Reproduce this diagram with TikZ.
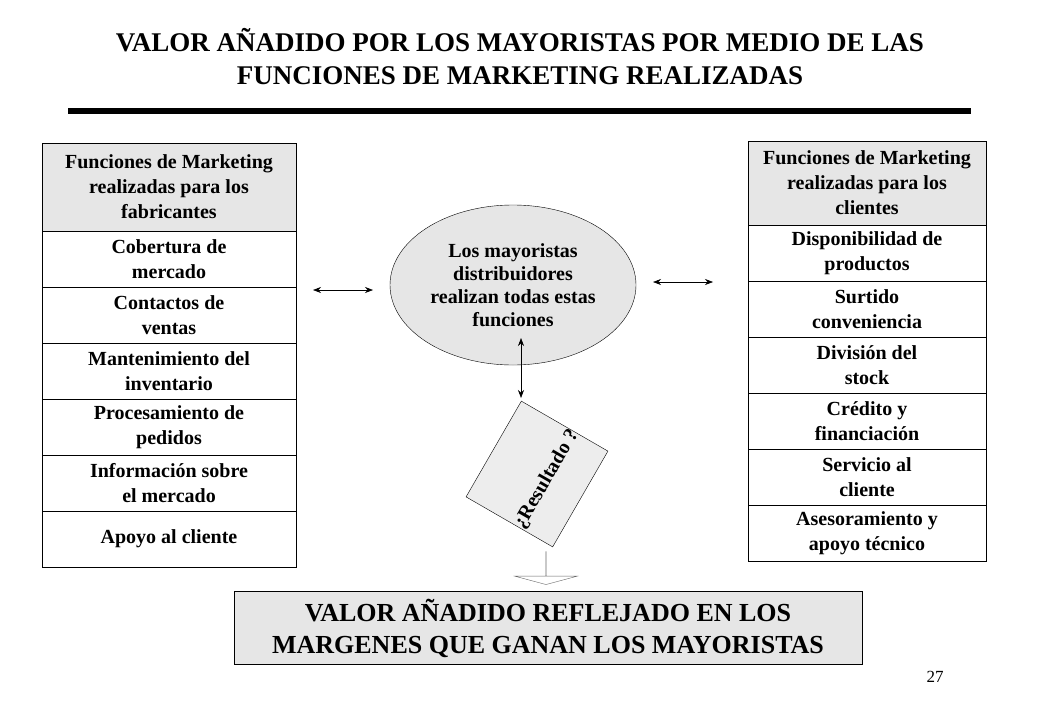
\documentclass[tikz,border=0pt]{standalone}
\usepackage{fontspec}
\setmainfont{Liberation Serif}
\usetikzlibrary{shapes.geometric,shapes.arrows,arrows.meta}
\definecolor{boxgray}{RGB}{230,230,230}
\tikzset{
  cell/.style={draw, minimum height=56pt, align=center, font=\bfseries\fontsize{20}{25}\selectfont, inner sep=1pt},
  head/.style={cell, fill=boxgray},
  link/.style={{Stealth[length=8pt]}-{Stealth[length=8pt]}, semithick}
}
\begin{document}
\begin{tikzpicture}[x=1pt,y=-1pt]
  \useasboundingbox (0,0) rectangle (1040,720);
  \node[align=center, font=\bfseries\fontsize{27}{33}\selectfont] (title) at (520,57)
    {VALOR AÑADIDO POR LOS MAYORISTAS POR MEDIO DE LAS\\FUNCIONES DE MARKETING REALIZADAS};
  \draw[line width=6pt] (68,111) -- (971,111);

  % fabricantes
  \node[head, minimum width=254pt, minimum height=88pt] (fab) at (169,187)
    {Funciones de Marketing\\realizadas para los\\fabricantes};
  \foreach \t [count=\i] in {{Cobertura de\\mercado},{Contactos de\\ventas},
      {Mantenimiento del\\inventario},{Procesamiento de\\pedidos},
      {Información sobre\\el mercado},{Apoyo al cliente}}
    \node[cell, minimum width=254pt] (f\i) at (169,203+56*\i) {\t};

  % clientes
  \node[head, minimum width=238pt, minimum height=84pt] (cli) at (867,183)
    {Funciones de Marketing\\realizadas para los\\clientes};
  \foreach \t [count=\i] in {{Disponibilidad de\\productos},{Surtido\\conveniencia},
      {División del\\stock},{Crédito y\\financiación},
      {Servicio al\\cliente},{Asesoramiento y\\apoyo técnico}}
    \node[cell, minimum width=238pt] (c\i) at (867,197+56*\i) {\t};

  \node[ellipse, draw, fill=boxgray, minimum width=246pt, minimum height=160pt,
    inner sep=0pt, align=center, font=\bfseries\fontsize{20}{23}\selectfont] (may) at (513,285)
    {Los mayoristas\\distribuidores\\realizan todas estas\\funciones};

  \coordinate (la) at (313,290); \coordinate (lb) at (373,290);
  \coordinate (ra) at (653,282); \coordinate (rb) at (713,282);
  \coordinate (va) at (521,338); \coordinate (vb) at (521,398);
  \draw[link] (la) -- (lb);
  \draw[link] (ra) -- (rb);
  \draw[link] (va) -- (vb);

  \node[draw, fill=boxgray!70!white, minimum width=100pt, minimum height=100pt, rotate=60,
    inner sep=0pt, font=\bfseries\fontsize{20}{22}\selectfont] (res) at (537,474)
    {\raisebox{-16pt}[0pt][0pt]{¿Resultado ?}};

  \node[single arrow, draw=gray!80!black, fill=white, shape border rotate=270, minimum width=42pt,
    single arrow head extend=31pt, single arrow tip angle=150, minimum height=33pt,
    inner sep=0pt] (flecha) at (546,568) {};

  \node[draw, fill=boxgray, minimum width=628pt, minimum height=73pt, align=center,
    font=\bfseries\fontsize{26}{32}\selectfont] (valor) at (548,628)
    {VALOR AÑADIDO REFLEJADO EN LOS\\MARGENES QUE GANAN LOS MAYORISTAS};
  \node[font=\fontsize{17}{19}\selectfont] (pag) at (935,677) {27};
\end{tikzpicture}
\end{document}
